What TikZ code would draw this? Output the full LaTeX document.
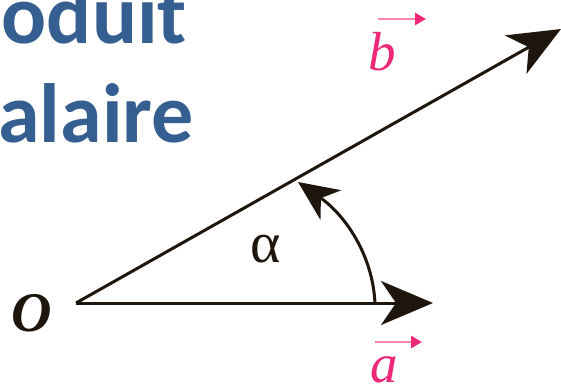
\documentclass[tikz,border=0pt]{standalone}
\usepackage{fontspec}
\setmainfont{Liberation Serif}
\newfontfamily\titlefont{Carlito}
\usetikzlibrary{arrows.meta}
\definecolor{titleblue}{RGB}{54,95,145}
\definecolor{vecpink}{RGB}{238,40,120}
\definecolor{lightpink}{RGB}{255,135,175}
\definecolor{ink}{RGB}{30,22,12}
\begin{document}
\begin{tikzpicture}[x=1pt,y=-1pt,
  title/.style={text=titleblue, inner sep=0pt, anchor=base east,
    font=\titlefont\bfseries\fontsize{84}{84}\selectfont},
  vec/.style={line width=3pt, draw=ink,
    -{Stealth[length=52pt,width=44pt,inset=15pt,fill=ink]}},
  arcarrow/.style={line width=3pt, draw=ink,
    -{Stealth[length=40pt,width=36pt,inset=12pt,fill=ink]}},
  veclabel/.style={text=vecpink, inner sep=0pt, anchor=base west,
    font=\itshape\fontsize{55}{55}\selectfont},
  overarrow/.style={line width=2.5pt, draw=lightpink,
    -{Stealth[length=11pt,width=12pt,inset=0pt,fill=vecpink,color=vecpink]}},
  plainlabel/.style={text=ink, inner sep=0pt}
]
\useasboundingbox (0,0) rectangle (561,388);
\fill[white] (0,0) rectangle (561,388);
\begin{scope}
  \clip (0,0) rectangle (561,388);
  \node[title] (t1) at (187,43) {oduit};
  \node[title] (t2) at (194,142) {alaire};
\end{scope}

\coordinate (O) at (76,303);
\coordinate (A) at (433,303);
\coordinate (B) at (561,29);
\coordinate (arcstart) at (375,304);
\coordinate (arcend) at (298,182);

\draw[vec] (O) -- (A);
\draw[vec] (O) -- (B);
\draw[arcarrow] (arcstart) .. controls (373,255) and (345,215) .. (arcend);

\node[plainlabel, font=\bfseries\itshape\fontsize{56}{56}\selectfont, anchor=base] (olabel) at (32,331) {O};
\node[plainlabel, font=\fontsize{58}{58}\selectfont, anchor=base] (alpha) at (266,262) {α};

\node[veclabel] (lb) at (368,70) {b};
\node[veclabel] (la) at (370,382) {a};
\coordinate (bs) at (378,19);
\coordinate (be) at (426,19);
\coordinate (as) at (375,342);
\coordinate (ae) at (422,342);
\draw[overarrow] (bs) -- (be);
\draw[overarrow] (as) -- (ae);
\end{tikzpicture}
\end{document}
